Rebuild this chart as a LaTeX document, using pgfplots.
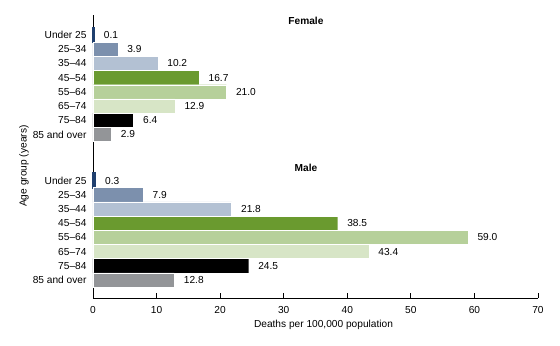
\documentclass[border=0pt]{standalone}
\usepackage{fontspec}
\setmainfont{Liberation Sans}
\usepackage{pgfplots}
\pgfplotsset{compat=1.18}
\definecolor{cA}{HTML}{1F3F6E}
\definecolor{cB}{HTML}{7C90AD}
\definecolor{cC}{HTML}{B3C1D3}
\definecolor{cD}{HTML}{6A9A2F}
\definecolor{cE}{HTML}{B6D09A}
\definecolor{cF}{HTML}{D7E5C6}
\definecolor{cG}{HTML}{000000}
\definecolor{cH}{HTML}{939598}
\newcommand{\fs}{\fontsize{10.2}{12}\selectfont}
\begin{document}
\begin{tikzpicture}[font=\fs]
\begin{axis}[
  scale only axis, width=445bp, height=283bp,
  xbar, bar width=1, bar shift=0pt,
  xmin=0, xmax=70, ymin=-18.52, ymax=1.41,
  axis x line=bottom, axis y line=left,
  axis line style={-, line width=0.9pt, black},
  xtick={0,10,...,70}, tick align=inside,
  major tick length=5bp,
  x tick style={black, line width=0.9pt},
  y tick style={draw=none},
  ytick={0,-1,-2,-3,-4,-5,-6,-7,-10.25,-11.25,-12.25,-13.25,-14.25,-15.25,-16.25,-17.25},
  yticklabels={Under 25,25--34,35--44,45--54,55--64,65--74,75--84,85 and over,Under 25,25--34,35--44,45--54,55--64,65--74,75--84,85 and over},
  yticklabel style={font=\fs, xshift=-3bp},
  xticklabel style={font=\fs, yshift=-5bp, /pgf/number format/assume math mode=true},
  xlabel={Deaths per 100,000 population},
  xlabel style={font=\fs, at={(axis description cs:0.518,-0.095)}, anchor=center},
  ylabel={Age group (years)},
  ylabel style={font=\fs, at={(axis description cs:-0.155,0.466)}, anchor=center},
  point meta=x,
  nodes near coords={\pgfmathprintnumber[fixed,fixed zerofill,precision=1,assume math mode=true]{\pgfplotspointmeta}},
  nodes near coords align={horizontal},
  every node near coord/.append style={font=\fs, anchor=west, xshift=6bp, text=black},
  every axis plot/.append style={draw=white, line width=0.4pt},
  clip=false,
]
\addplot[fill=cA, draw=cA, line width=2pt] coordinates {(0.1,0) (0.3,-10.25)};
\addplot[fill=cB] coordinates {(3.9,-1) (7.9,-11.25)};
\addplot[fill=cC] coordinates {(10.2,-2) (21.8,-12.25)};
\addplot[fill=cD] coordinates {(16.7,-3) (38.5,-13.25)};
\addplot[fill=cE] coordinates {(21.0,-4) (59.0,-14.25)};
\addplot[fill=cF] coordinates {(12.9,-5) (43.4,-15.25)};
\addplot[fill=cG] coordinates {(6.4,-6) (24.5,-16.25)};
\addplot[fill=cH] coordinates {(2.9,-7) (12.8,-17.25)};
\node[font=\fs\bfseries] at (axis cs:33.5,0.99) {Female};
\node[font=\fs\bfseries] at (axis cs:33.5,-9.36) {Male};
\coordinate (O) at (rel axis cs:0,0);
\end{axis}
\pgfresetboundingbox
\path[use as bounding box] (O) ++(-93bp,-48bp) rectangle ++(560bp,346bp);
\end{tikzpicture}
\end{document}
